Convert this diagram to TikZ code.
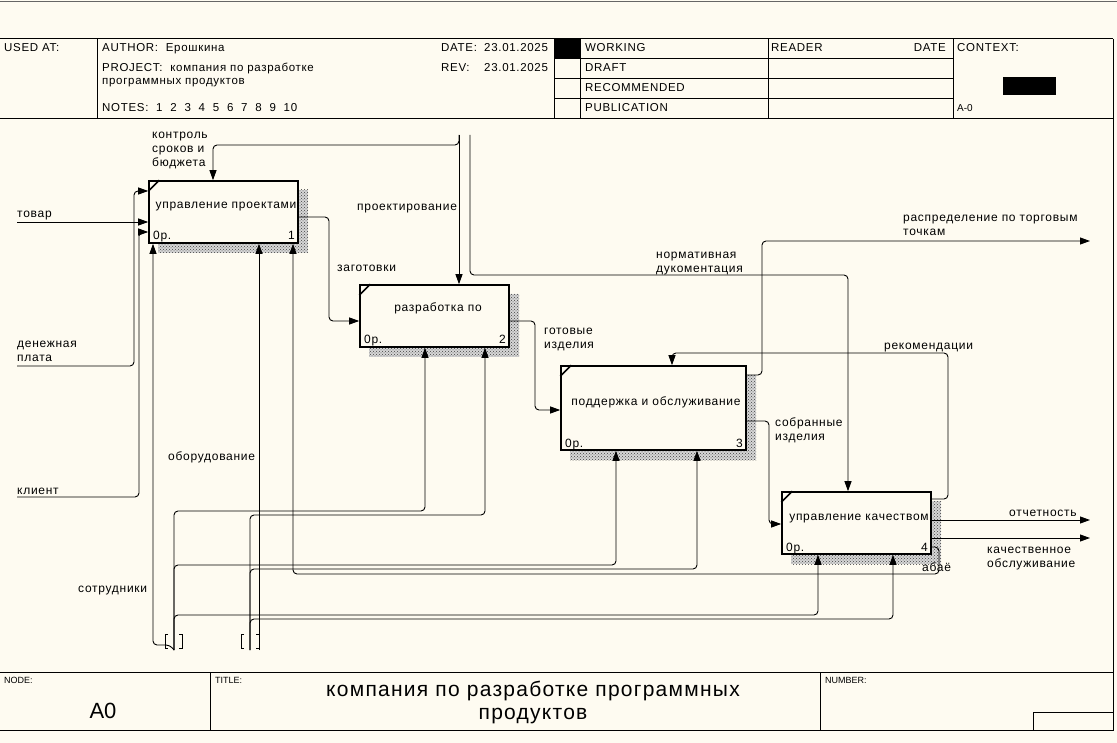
\documentclass[tikz,border=0pt]{standalone}
\usepackage{fontspec}
\setmainfont{Liberation Sans}
\newfontfamily\lblfont[LetterSpace=6]{Liberation Sans}
\usetikzlibrary{arrows.meta,patterns,calc}
\definecolor{bg}{RGB}{254,251,241}
\newcommand\IdefBox[9]{%
  \fill[black!16] (#2+9,#3+9) rectangle (#4+10,#5+10);
  \fill[shadowst] (#2+9,#3+9) rectangle (#4+10,#5+10);
  \node[boxst, minimum width={#4-#2}, minimum height={#5-#3}] (#1) at ({(#2+#4)/2},{(#3+#5)/2}) {};
  \draw[line width=1.6pt] (#1.north west) ++(0,11) -- ++(11,-11);
  \node[lbl, anchor=base] (#1-t) at (#7,#8) {#6};
  \node[lbl, anchor=base west] (#1-o) at (#2+4,#5-3) {0р.};
  \node[lbl, anchor=base east] (#1-n) at (#4-3,#5-3) {#9};
}
\begin{document}
\begin{tikzpicture}[x=1pt,y=-1pt,
  lbl/.style={font=\lblfont\fontsize{12}{14}\selectfont, inner sep=0pt, align=left, text=black},
  hdr/.style={font=\lblfont\fontsize{11.5}{13}\selectfont, inner sep=0pt, anchor=base west},
  small/.style={font=\fontsize{9}{11}\selectfont, inner sep=0pt, anchor=base west},
  frame/.style={line width=1pt, draw=black},
  boxst/.style={draw, line width=1.6pt, fill=bg, inner sep=0pt},
  shadowst/.style={pattern=crosshatch dots, pattern color=black!75},
  conn/.style={line width=0.9pt, rounded corners=4pt},
  arr/.style={conn, -{Triangle[length=10pt,width=7pt]}}]
\fill[bg] (0,0) rectangle (1117,743);
\useasboundingbox (0,0) rectangle (1117,743);
% outer frame
\draw[line width=1.5pt, black!60] (0,1.5) -- (1117,1.5);
\draw[frame] (1113,39) -- (1113,730);
% header
\draw[frame] (0,39) -- (1113,39);
\draw[frame] (0,119) -- (1113,119);
\foreach \xx in {97,554,580,768,953} \draw[frame] (\xx,39) -- (\xx,119);
\foreach \yy in {58.5,78.5,98.5} \draw[frame] (554,\yy) -- (953,\yy);
\fill[black] (554,39) rectangle (580,58.5);
\fill[black] (1003,77) rectangle (1056,95);
\node[hdr] (usedat) at (4,52) {USED AT:};
\node[hdr] (author) at (102,52) {AUTHOR:\ \ Ерошкина};
\node[hdr] (project) at (102,72) {PROJECT:\ \ компания по разработке};
\node[hdr] (project2) at (102,85) {программных продуктов};
\node[hdr] (notes) at (102,112) {NOTES:\ \ 1\ \ 2\ \ 3\ \ 4\ \ 5\ \ 6\ \ 7\ \ 8\ \ 9\ \ 10};
\node[hdr] (date) at (441,52) {\makebox[43pt][l]{DATE:}23.01.2025};
\node[hdr] (rev) at (441,72) {\makebox[43pt][l]{REV:}23.01.2025};
\node[hdr] (working) at (585,52) {WORKING};
\node[hdr] (draft) at (585,72) {DRAFT};
\node[hdr] (recom) at (585,92) {RECOMMENDED};
\node[hdr] (publ) at (585,112) {PUBLICATION};
\node[hdr] (reader) at (771,52) {READER};
\node[hdr, anchor=base east] (rdate) at (946,52) {DATE};
\node[hdr] (context) at (957,52) {CONTEXT:};
\node[small, font=\fontsize{10}{12}\selectfont] (acontext) at (957,112) {A-0};
% footer
\draw[frame] (0,672.5) -- (1113,672.5);
\draw[frame] (0,730) -- (1113,730);
\draw[frame] (210,672.5) -- (210,730);
\draw[frame] (820,672.5) -- (820,730);
\draw[frame] (1033,712) rectangle (1113,730);
\node[small] (nodel) at (4,683) {NODE:};
\node[small] (titlel) at (215,683) {TITLE:};
\node[small] (numberl) at (825,683) {NUMBER:};
\node[inner sep=0pt, font=\fontsize{22}{24}\selectfont, anchor=base] (a0) at (103,718) {A0};
\node[inner sep=0pt, font=\lblfont\fontsize{21}{23}\selectfont, align=center, anchor=base] (title) at (533,719) {компания по разработке программных\\продуктов};
% boxes
\IdefBox{b1}{149}{181}{298}{243}{управление проектами}{226}{209}{1}
\IdefBox{b2}{360}{285}{509}{347}{разработка по}{438}{312}{2}
\IdefBox{b3}{561}{366}{746}{450}{поддержка и обслуживание}{656}{406}{3}
\IdefBox{b4}{782}{492}{931}{554}{управление качеством}{859}{520}{4}
% free ends
\coordinate (in1) at (17,222);
\coordinate (in2) at (17,366);
\coordinate (in3) at (17,497);
\coordinate (top1) at (459,135);
\coordinate (top2) at (470,135);
\coordinate (out1) at (1090,241);
\coordinate (out2) at (1090,520);
\coordinate (out3) at (1090,538);
\coordinate (tl) at (174,650);
\coordinate (tr) at (250,650);
\coordinate (tr2) at (259,650);
% inputs
\draw[arr] (in1) -- (b1.west |- in1);
\draw[arr] (in2) -- (134,366) -- (134,191) -- (b1.west |- 0,191);
\draw[arr] (in3) -- (139,497) -- (139,232) -- (b1.west |- 0,232);
% controls
\draw[arr] (top1) -- (b2.north -| top1);
\draw[arr] (top1) -- (459,145) -- (213,145) -- (b1.north -| 213,0);
\draw[arr] (top2) -- (470,275) -- (848,275) -- (b4.north -| 848,0);
% flows between boxes
\draw[arr] (b1.east |- 0,217) -- (329,217) -- (329,321) -- (b2.west |- 0,321);
\draw[arr] (b2.east |- 0,321) -- (535,321) -- (535,410) -- (b3.west |- 0,410);
\draw[arr] (b3.east |- 0,421) -- (769,421) -- (769,524) -- (b4.west |- 0,524);
\draw[arr] (b3.east |- 0,375) -- (762,375) -- (762,241) -- (out1);
\draw[arr] (b4.east |- 0,499) -- (948,499) -- (948,353) -- (672,353) -- (b3.north -| 672,0);
\draw[arr] (b4.east |- out2) -- (out2);
\draw[arr] (b4.east |- out3) -- (out3);
\draw[arr] (b4.east |- 0,547) -- (939,547) -- (939,574) -- (293,574) -- (b1.south -| 293,0);
% mechanisms
\draw[arr] (tl) -- (170,645) -- (153,645) -- (b1.south -| 153,0);
\draw[arr] (tl) -- (174,511) -- (425,511) -- (b2.south -| 425,0);
\draw[arr] (tl) -- (174,565) -- (616,565) -- (b3.south -| 616,0);
\draw[arr] (tl) -- (174,615) -- (818,615) -- (b4.south -| 818,0);
\draw[arr] (tr2) -- (b1.south -| tr2);
\draw[arr] (tr) -- (250,515) -- (485,515) -- (b2.south -| 485,0);
\draw[arr] (tr) -- (250,569) -- (697,569) -- (b3.south -| 697,0);
\draw[arr] (tr) -- (250,619) -- (893,619) -- (b4.south -| 893,0);
% tunnels
\draw[line width=0.9pt] (168,634) -- (165,634) -- (165,648) -- (168,648);
\draw[line width=0.9pt] (179,634) -- (182,634) -- (182,648) -- (179,648);
\draw[line width=0.9pt] (244,634) -- (241,634) -- (241,648) -- (244,648);
\draw[line width=0.9pt] (256,634) -- (259,634) -- (259,648) -- (256,648);
% labels
\node[lbl, anchor=base west] (l1) at (152,167) {контроль\\сроков и\\бюджета};
\node[lbl, anchor=base west] (l2) at (17,218) {товар};
\node[lbl, anchor=base west] (l3) at (17,362) {денежная\\плата};
\node[lbl, anchor=base west] (l4) at (17,494) {клиент};
\node[lbl, anchor=base west] (l5) at (357,211) {проектирование};
\node[lbl, anchor=base west] (l6) at (337,272) {заготовки};
\node[lbl, anchor=base west] (l7) at (656,273) {нормативная\\дукоментация};
\node[lbl, anchor=base west] (l8) at (903,236) {распределение по торговым\\точкам};
\node[lbl, anchor=base west] (l9) at (544,349) {готовые\\изделия};
\node[lbl, anchor=base west] (l10) at (884,350) {рекомендации};
\node[lbl, anchor=base west] (l11) at (775,440) {собранные\\изделия};
\node[lbl, anchor=base west] (l12) at (168,460) {оборудование};
\node[lbl, anchor=base west] (l13) at (1009,516) {отчетность};
\node[lbl, anchor=base west] (l14) at (987,567) {качественное\\обслуживание};
\node[lbl, anchor=base west] (l15) at (922,571) {абаё};
\node[lbl, anchor=base west] (l16) at (78,592) {сотрудники};
\end{tikzpicture}
\end{document}
